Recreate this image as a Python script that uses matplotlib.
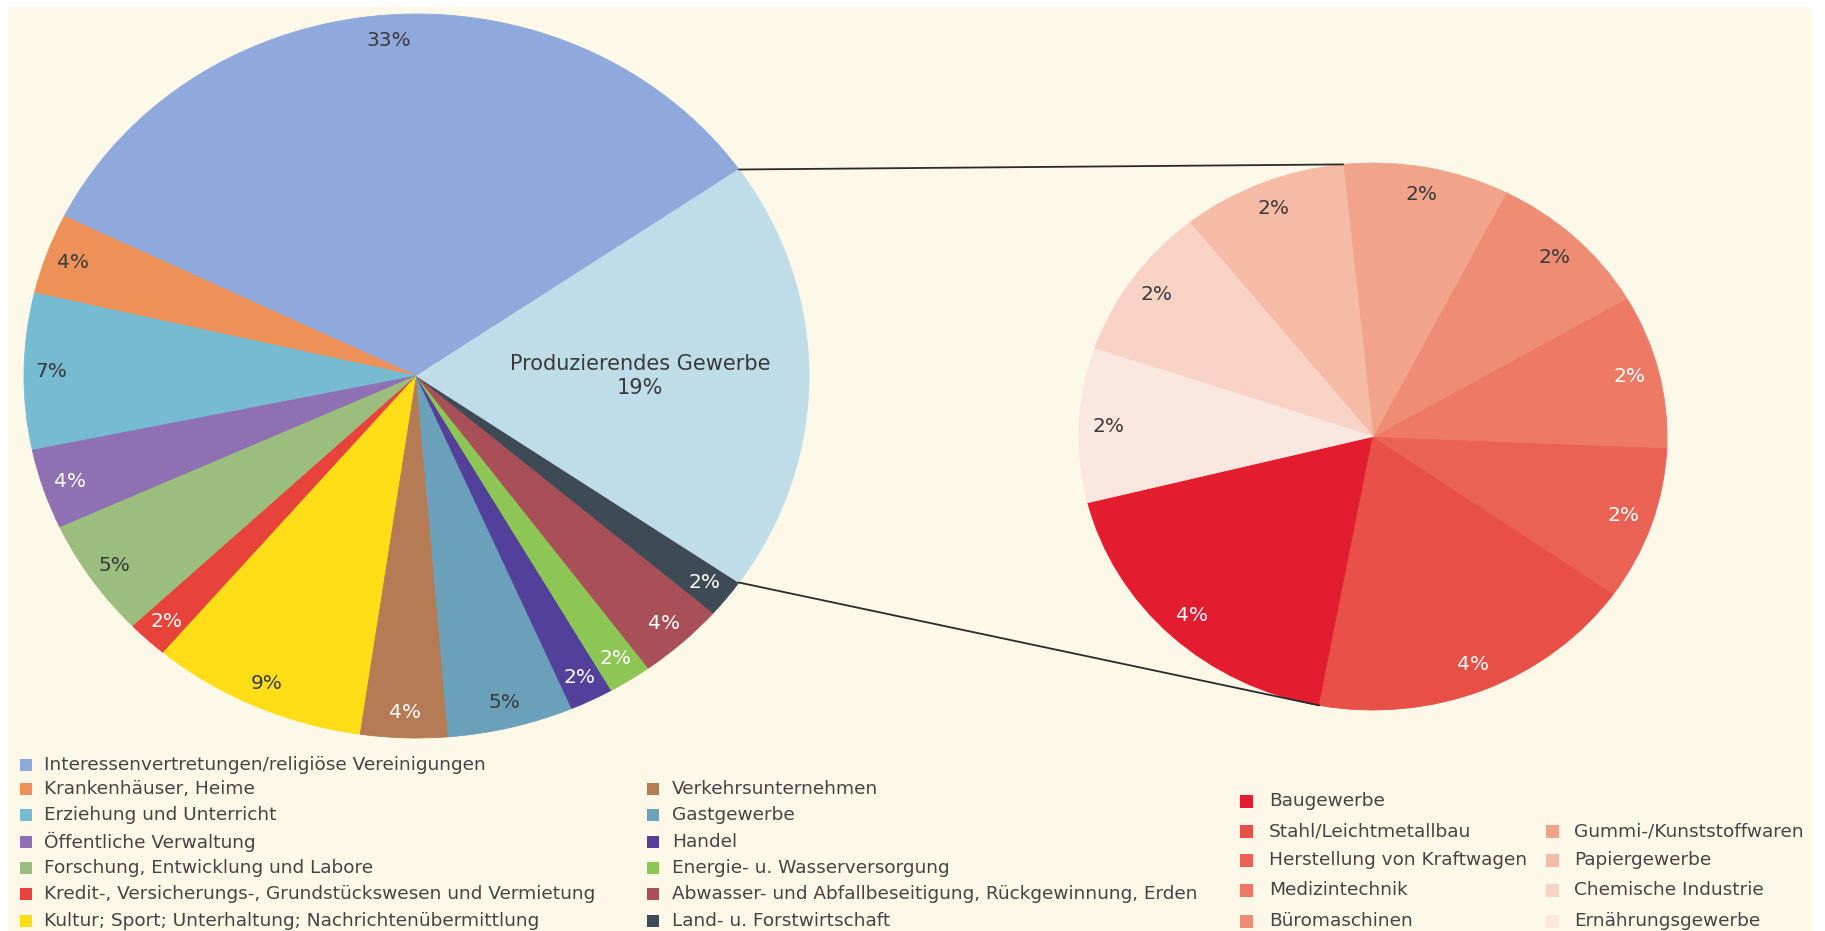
import matplotlib
matplotlib.use("Agg")
import matplotlib.pyplot as plt
from matplotlib.patches import Rectangle, ConnectionPatch
import numpy as np

W, H = 1825, 931

# ---------------- data ----------------
main_labels = [
    "Interessenvertretungen/religiöse Vereinigungen",
    "Krankenhäuser, Heime",
    "Erziehung und Unterricht",
    "Öffentliche Verwaltung",
    "Forschung, Entwicklung und Labore",
    "Kredit-, Versicherungs-, Grundstückswesen und Vermietung",
    "Kultur; Sport; Unterhaltung; Nachrichtenübermittlung",
    "Verkehrsunternehmen",
    "Gastgewerbe",
    "Handel",
    "Energie- u. Wasserversorgung",
    "Abwasser- und Abfallbeseitigung, Rückgewinnung, Erden",
    "Land- u. Forstwirtschaft",
    "Produzierendes Gewerbe",
]
main_values = [33.2, 3.6, 7.0, 3.6, 5.3, 1.7, 8.9, 3.6, 5.2, 1.8, 1.8, 3.6, 1.7, 19.4]

sub_labels = [
    "Baugewerbe",
    "Stahl/Leichtmetallbau",
    "Herstellung von Kraftwagen",
    "Medizintechnik",
    "Büromaschinen",
    "Gummi-/Kunststoffwaren",
    "Papiergewerbe",
    "Chemische Industrie",
    "Ernährungsgewerbe",
]
sub_values = [4, 4, 2, 2, 2, 2, 2, 2, 2]

# ---------------- styles ----------------
main_colors = ["#8FA9DC", "#EE9158", "#77BBD2", "#8E70B3", "#9BBD7E", "#E8433A",
               "#FFDD17", "#B57B55", "#6AA0BA", "#52409A", "#8DC654", "#A84F57",
               "#3E4A55", "#BEDDE8"]
DARK = "#3A3A3A"
main_txt = [DARK, DARK, DARK, "white", DARK, "white", DARK, "white", DARK,
            "white", "white", "white", "white", DARK]
sub_colors = ["#E31D2F", "#E84F47", "#EB6255", "#EE7A65", "#EF8D74", "#F2A48A",
              "#F6BBA6", "#F8D3C5", "#FAE7DF"]
sub_txt = ["white", "white", "white", "white", DARK, DARK, DARK, DARK, DARK]
CREAM = "#FDF8E8"
LEG_TXT = "#444444"

plt.rcParams['font.family'] = ['DejaVu Sans']

fig = plt.figure(figsize=(W / 100, H / 100), dpi=100)
fig.patch.set_facecolor("white")
fig.patches.append(Rectangle((8 / W, 0), (1812 - 8) / W, (H - 7) / H,
                             transform=fig.transFigure, facecolor=CREAM,
                             edgecolor="none", zorder=-10))


def pie_axes(cx, cy, rx, ry, pad=1.04):
    rect = [(cx - rx * pad) / W, (H - (cy + ry * pad)) / H,
            2 * rx * pad / W, 2 * ry * pad / H]
    ax = fig.add_axes(rect)
    return ax, pad


# ---------------- main pie ----------------
ax1, p1 = pie_axes(416.5, 376, 392.5, 362)
frac_prod = main_values[-1] / sum(main_values)
w1, _ = ax1.pie(main_values, colors=main_colors, startangle=180 * frac_prod,
                counterclock=True, wedgeprops=dict(linewidth=0.6))
for w in w1:
    w.set_edgecolor(w.get_facecolor())
ax1.set_aspect("auto")
ax1.set_xlim(-p1, p1)
ax1.set_ylim(-p1, p1)
ax1.axis("off")

for i, (w, v) in enumerate(zip(w1, main_values)):
    mid = np.deg2rad((w.theta1 + w.theta2) / 2)
    if i == len(main_values) - 1:
        r = 0.57
        txt = f"{main_labels[i]}\n{round(v)}%"
        fs = 15
    else:
        r = 0.93
        txt = f"{round(v)}%"
        fs = 14.5
    ax1.text(r * np.cos(mid), r * np.sin(mid), txt, ha="center", va="center",
             fontsize=fs, color=main_txt[i], linespacing=1.25)

# ---------------- sub pie ----------------
ax2, p2 = pie_axes(1373, 436.5, 294, 273.5)
w2, _ = ax2.pie(sub_values, colors=sub_colors, startangle=194,
                counterclock=True, wedgeprops=dict(linewidth=0.6))
for w in w2:
    w.set_edgecolor(w.get_facecolor())
ax2.set_aspect("auto")
ax2.set_xlim(-p2, p2)
ax2.set_ylim(-p2, p2)
ax2.axis("off")
for i, (w, v) in enumerate(zip(w2, sub_values)):
    mid = np.deg2rad((w.theta1 + w.theta2) / 2)
    r = 0.9
    ax2.text(r * np.cos(mid), r * np.sin(mid), f"{round(v)}%", ha="center",
             va="center", fontsize=14.5, color=sub_txt[i])

# ---------------- connectors ----------------
prod = w1[-1]
a_top = np.deg2rad(prod.theta2)
a_bot = np.deg2rad(prod.theta1)
b_top = np.deg2rad(w2[6].theta1)
b_bot = np.deg2rad(w2[1].theta1)
for aa, bb in [(a_top, b_top), (a_bot, b_bot)]:
    con = ConnectionPatch(xyA=(np.cos(aa), np.sin(aa)), coordsA=ax1.transData,
                          xyB=(np.cos(bb), np.sin(bb)), coordsB=ax2.transData,
                          color="#2A2A2A", lw=1.3)
    fig.add_artist(con)

# ---------------- legends ----------------
def leg_item(x_marker, x_text, y, color, label, size=12):
    fig.patches.append(Rectangle((x_marker / W, 1 - (y + size / 2) / H), size / W, size / H,
                                 transform=fig.transFigure, facecolor=color,
                                 edgecolor="none"))
    fig.text(x_text / W, 1 - y / H, label, ha="left", va="center",
             fontsize=13.3, color=LEG_TXT)

col1_rows = [765, 789, 815, 842, 868, 894, 921]
col2_rows = [789, 815, 842, 868, 894, 921]
for k, y in enumerate(col1_rows):
    leg_item(20, 44, y, main_colors[k], main_labels[k])
for k, y in enumerate(col2_rows):
    j = k + len(col1_rows)
    leg_item(647, 672, y, main_colors[j], main_labels[j])

col3_rows = [801, 831, 860, 890, 921]
col4_rows = [831, 860, 890, 921]
for k, y in enumerate(col3_rows):
    leg_item(1240, 1269, y, sub_colors[k], sub_labels[k], size=13)
for k, y in enumerate(col4_rows):
    j = k + len(col3_rows)
    leg_item(1546, 1574, y, sub_colors[j], sub_labels[j], size=13)

fig.savefig("out.png", dpi=100, facecolor=fig.get_facecolor())
